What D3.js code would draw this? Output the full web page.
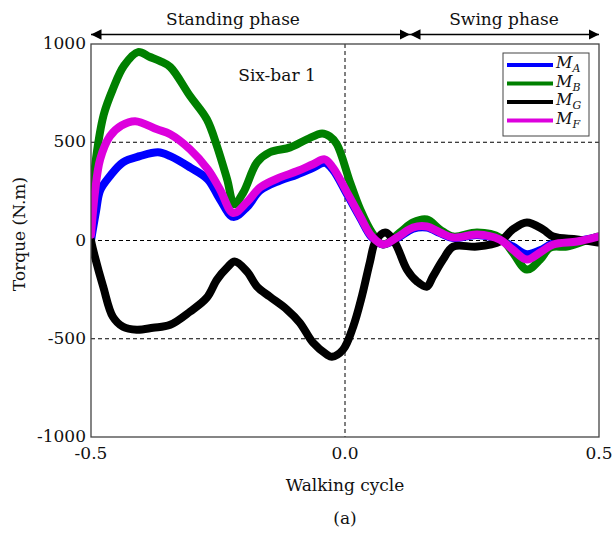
<!DOCTYPE html>
<html>
<head>
<meta charset="utf-8">
<script src="https://cdn.jsdelivr.net/npm/d3@7"></script>
<style>
  body { margin: 0; background: #fff; }
  text { font-family: "DejaVu Serif", "Liberation Serif", serif; fill: #111; }
</style>
</head>
<body>
<svg id="chart" width="614" height="536"></svg>
<script>
// torque curves: [walking cycle, torque N.m]
var mA = [[-0.5,0],[-0.49,150],[-0.482,255],[-0.463,327],[-0.437,398],[-0.404,429],[-0.368,449],[-0.344,429],[-0.305,372],[-0.27,311],[-0.246,209],[-0.22,120],[-0.193,170],[-0.167,255],[-0.128,305],[-0.095,335],[-0.063,370],[-0.04,395],[-0.024,360],[0.004,235],[0.03,115],[0.053,15],[0.075,-20],[0.102,10],[0.134,60],[0.161,66],[0.187,38],[0.213,12],[0.26,28],[0.305,3],[0.33,-30],[0.358,-70],[0.384,-50],[0.41,-15],[0.457,-3],[0.498,18]];
var mB = [[-0.5,150],[-0.49,420],[-0.475,640],[-0.457,770],[-0.435,890],[-0.4075,959],[-0.385,935],[-0.364,913],[-0.344,883],[-0.305,735],[-0.272,617],[-0.252,480],[-0.232,311],[-0.218,184],[-0.2,245],[-0.173,398],[-0.148,449],[-0.108,474],[-0.075,515],[-0.045,545],[-0.03,530],[-0.016,490],[0.01,296],[0.03,158],[0.053,41],[0.075,-20],[0.108,41],[0.134,92],[0.161,107],[0.187,56],[0.213,20],[0.26,41],[0.305,15],[0.33,-61],[0.358,-148],[0.384,-97],[0.404,-36],[0.437,-31],[0.469,-5],[0.498,20]];
var mG = [[-0.5,0],[-0.496,-46],[-0.476,-235],[-0.457,-388],[-0.437,-439],[-0.41,-454],[-0.378,-444],[-0.344,-429],[-0.305,-362],[-0.272,-291],[-0.252,-199],[-0.232,-138],[-0.217,-107],[-0.193,-158],[-0.173,-235],[-0.148,-286],[-0.114,-352],[-0.089,-418],[-0.063,-520],[-0.035,-582],[-0.026,-592],[-0.004,-556],[0.016,-439],[0.033,-286],[0.049,-110],[0.06,-5],[0.079,41],[0.098,-10],[0.122,-148],[0.142,-209],[0.161,-235],[0.173,-184],[0.193,-97],[0.213,-31],[0.26,-31],[0.305,-5],[0.33,56],[0.358,92],[0.39,56],[0.41,20],[0.457,5],[0.498,-10]];
var mF = [[-0.5,30],[-0.492,250],[-0.482,413],[-0.463,530],[-0.44,585],[-0.413,607],[-0.37,566],[-0.344,541],[-0.305,464],[-0.27,362],[-0.246,260],[-0.22,140],[-0.193,195],[-0.167,270],[-0.128,321],[-0.095,352],[-0.063,388],[-0.04,413],[-0.024,372],[0.004,245],[0.03,122],[0.053,20],[0.075,-20],[0.102,15],[0.134,66],[0.161,71],[0.187,41],[0.213,15],[0.26,31],[0.305,5],[0.33,-46],[0.358,-97],[0.384,-61],[0.41,-20],[0.457,-5],[0.498,20]];

var seriesNames = ["A", "B", "G", "F"];
var seriesColors = ["#0000ff", "#008000", "#000000", "#dd00dd"];
var xTicks = [-0.5, 0.0, 0.5];
var xTickLabels = ["-0.5", "0.0", "0.5"];
var yTicks = [1000, 500, 0, -500, -1000];
var gridY = [500, 0, -500];
var phases = [["Standing phase", -0.5, 0.128], ["Swing phase", 0.128, 0.5]];

var svg = d3.select("#chart");
var pLeft = 91, pRight = 599, pTop = 44, pBottom = 437;
var fs = 17;

var x = d3.scaleLinear().domain([-0.5, 0.5]).range([pLeft, pRight]);
var y = d3.scaleLinear().domain([-1000, 1000]).range([pBottom, pTop]);

var defs = svg.append("defs");
defs.append("clipPath").attr("id", "clip")
  .append("rect").attr("x", pLeft).attr("y", pTop)
  .attr("width", pRight - pLeft).attr("height", pBottom - pTop);
defs.append("marker").attr("id", "arrow")
  .attr("viewBox", "0 0 10 10").attr("refX", 10).attr("refY", 5)
  .attr("markerWidth", 7).attr("markerHeight", 7)
  .attr("markerUnits", "strokeWidth")
  .attr("orient", "auto-start-reverse")
  .append("path").attr("d", "M0,0 L10,5 L0,10 Z").attr("fill", "#000");

// dashed grid
svg.append("g").selectAll("line").data(gridY).enter().append("line")
  .attr("x1", pLeft).attr("x2", pRight)
  .attr("y1", function(d) { return y(d); }).attr("y2", function(d) { return y(d); })
  .attr("stroke", "#000").attr("stroke-width", 1).attr("stroke-dasharray", "4,3");
svg.append("line")
  .attr("x1", x(0)).attr("x2", x(0)).attr("y1", pTop).attr("y2", pBottom)
  .attr("stroke", "#000").attr("stroke-width", 1).attr("stroke-dasharray", "4,3");

// curves
var line = d3.line()
  .x(function(d) { return x(d[0]); })
  .y(function(d) { return y(d[1]); })
  .curve(d3.curveCatmullRom.alpha(0.5));

var allData = [mA, mB, mG, mF];
svg.append("g").attr("clip-path", "url(#clip)")
  .selectAll("path").data(allData).enter().append("path")
    .attr("d", line)
    .attr("fill", "none")
    .attr("stroke", function(d, i) { return seriesColors[i]; })
    .attr("stroke-width", 8)
    .attr("stroke-linejoin", "round")
    .attr("stroke-linecap", "round");

// frame
svg.append("rect").attr("x", pLeft).attr("y", pTop)
  .attr("width", pRight - pLeft).attr("height", pBottom - pTop)
  .attr("fill", "none").attr("stroke", "#444").attr("stroke-width", 1.3);

// tick labels
svg.append("g").selectAll("text").data(yTicks).enter().append("text")
  .attr("x", pLeft - 5).attr("y", function(d) { return y(d) - 1; })
  .attr("text-anchor", "end").attr("dominant-baseline", "central")
  .attr("font-size", fs)
  .text(function(d) { return d; });
svg.append("g").selectAll("text").data(xTicks).enter().append("text")
  .attr("x", function(d) { return x(d); }).attr("y", 453)
  .attr("text-anchor", "middle").attr("dominant-baseline", "central")
  .attr("font-size", fs)
  .text(function(d, i) { return xTickLabels[i]; });

// axis titles
svg.append("text").attr("x", 345).attr("y", 485)
  .attr("text-anchor", "middle").attr("dominant-baseline", "central")
  .attr("font-size", fs).text("Walking cycle");
svg.append("text").attr("x", 345).attr("y", 518)
  .attr("text-anchor", "middle").attr("dominant-baseline", "central")
  .attr("font-size", fs).text("(a)");
svg.append("text").attr("transform", "translate(19,234) rotate(-90)")
  .attr("text-anchor", "middle").attr("dominant-baseline", "central")
  .attr("font-size", fs).text("Torque (N.m)");
svg.append("text").attr("x", 277).attr("y", 75)
  .attr("text-anchor", "middle").attr("dominant-baseline", "central")
  .attr("font-size", fs).text("Six-bar 1");

// phase arrows
phases.forEach(function(p) {
  svg.append("line")
    .attr("x1", x(p[1])).attr("x2", x(p[2])).attr("y1", 34.5).attr("y2", 34.5)
    .attr("stroke", "#000").attr("stroke-width", 1.5)
    .attr("marker-start", "url(#arrow)").attr("marker-end", "url(#arrow)");
});
svg.append("text").attr("x", 233).attr("y", 19)
  .attr("text-anchor", "middle").attr("dominant-baseline", "central")
  .attr("font-size", fs).text(phases[0][0]);
svg.append("text").attr("x", 504).attr("y", 19)
  .attr("text-anchor", "middle").attr("dominant-baseline", "central")
  .attr("font-size", fs).text(phases[1][0]);

// legend
var lg = svg.append("g").attr("class", "legend");
lg.append("rect").attr("x", 503).attr("y", 53).attr("width", 86).attr("height", 83)
  .attr("fill", "#fff").attr("stroke", "#444").attr("stroke-width", 1);
seriesNames.forEach(function(n, i) {
  var ly = 65 + i * 18.5;
  lg.append("line").attr("x1", 507).attr("x2", 553).attr("y1", ly).attr("y2", ly)
    .attr("stroke", seriesColors[i]).attr("stroke-width", 4);
  var t = lg.append("text").attr("x", 556).attr("y", ly + 3)
    .attr("font-size", 16).attr("font-style", "italic");
  t.append("tspan").text("M");
  t.append("tspan").attr("font-size", 11).attr("dy", 4).text(n);
});
</script>
</body>
</html>
